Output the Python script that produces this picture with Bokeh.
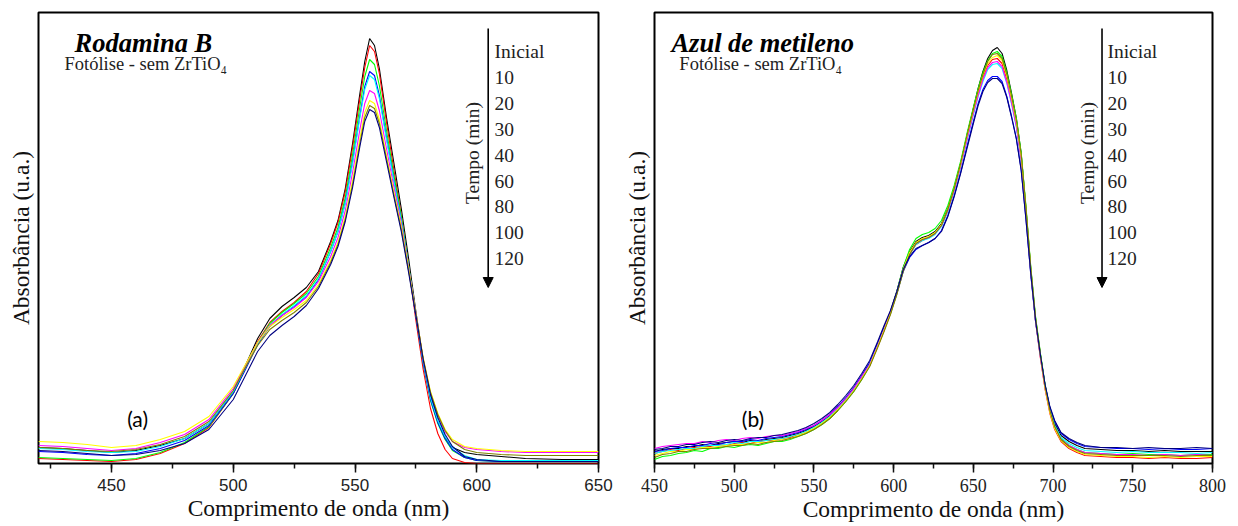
import math
from bokeh.plotting import figure
from bokeh.core.properties import value
from bokeh.models import Range1d, SingleIntervalTicker, FixedTicker, Arrow, NormalHead
from bokeh.layouts import row
from bokeh.embed import file_html
from bokeh.resources import INLINE

# Irradiation times (legend order) and Origin-style line colours
times = ["Inicial", "10", "20", "30", "40", "60", "80", "100", "120"]
colors = ["#000000", "#ff0000", "#00ff00", "#0000ff", "#00ffff",
          "#ff00ff", "#ffff00", "#808000", "#000080"]

# ---- Rodamina B spectra (absorbance, arbitrary units) ----
wl_rhb = [420, 430, 440, 450, 460, 470, 480, 490, 500, 505, 510, 515, 520, 525, 530,
          535, 540, 543, 546, 549, 552, 554, 556, 558, 560, 563, 566, 569, 572, 575,
          578, 581, 584, 587, 590, 595, 600, 610, 620, 635, 650]
rhb_0 = [16, 15, 13, 11, 13, 18, 25, 40, 72, 98, 125, 145, 157, 166, 176, 192, 222, 243, 275, 320,
         370, 402, 425, 418, 395, 345, 300, 255, 205, 152, 103, 66, 42, 26, 16, 11, 9, 7, 5, 4, 4]
rhb_10 = [5, 4, 3, 2, 4, 10, 20, 36, 70, 96, 122, 141, 152, 161, 172, 190, 220, 241, 272, 316,
          365, 396, 418, 412, 390, 340, 293, 248, 197, 143, 94, 55, 30, 14, 5, 1, 0, 0, 0, 0, 0]
rhb_20 = [6, 5, 4, 3, 5, 11, 21, 37, 70, 95, 121, 140, 151, 160, 170, 187, 216, 236, 266, 309,
          357, 387, 404, 399, 378, 332, 288, 247, 198, 148, 100, 63, 40, 24, 13, 6, 3, 2, 2, 2, 2]
rhb_30 = [12, 11, 9, 8, 10, 15, 23, 38, 70, 94, 119, 137, 148, 157, 167, 184, 212, 232, 261, 302,
          348, 377, 392, 388, 368, 325, 283, 243, 196, 147, 100, 64, 41, 25, 14, 6, 3, 2, 2, 2, 2]
rhb_40 = [15, 14, 12, 11, 12, 17, 25, 40, 72, 96, 120, 138, 149, 158, 168, 185, 212, 232, 260, 300,
          346, 374, 388, 384, 365, 323, 282, 243, 197, 149, 102, 66, 43, 27, 16, 8, 4, 3, 3, 3, 3]
rhb_60 = [18, 17, 15, 13, 15, 21, 29, 44, 75, 98, 121, 138, 148, 156, 166, 182, 207, 226, 253, 291,
          334, 360, 373, 370, 353, 314, 276, 240, 196, 150, 104, 70, 48, 32, 22, 16, 14, 12, 11, 11, 11]
rhb_80 = [22, 21, 19, 16, 18, 24, 32, 47, 77, 99, 121, 137, 146, 154, 163, 179, 203, 221, 247, 283,
          325, 351, 363, 360, 344, 307, 271, 237, 195, 150, 106, 72, 50, 34, 24, 17, 15, 13, 12, 12, 12]
rhb_100 = [16, 15, 13, 12, 14, 19, 27, 42, 73, 96, 118, 134, 143, 151, 161, 177, 201, 219, 244, 279,
           320, 346, 358, 355, 340, 304, 268, 234, 193, 149, 105, 71, 49, 33, 22, 14, 11, 9, 8, 8, 8]
rhb_120 = [13, 12, 10, 8, 9, 13, 20, 34, 64, 88, 112, 128, 138, 147, 158, 175, 199, 217, 242, 276,
           317, 342, 354, 351, 336, 301, 266, 232, 191, 148, 104, 69, 46, 29, 17, 7, 4, 2, 2, 2, 2]
rhb_series = [rhb_0, rhb_10, rhb_20, rhb_30, rhb_40, rhb_60, rhb_80, rhb_100, rhb_120]

# ---- Azul de metileno spectra (absorbance, arbitrary units) ----
wl_mb = [450, 455, 460, 465, 470, 475, 480, 485, 490, 495, 500, 505, 510, 515, 520, 525, 530, 535, 540, 545,
         550, 555, 560, 565, 570, 575, 580, 585, 590,
         594, 598, 602, 606, 610, 614, 618, 622, 626, 630, 634, 638, 642, 646,
         650, 653, 656, 659, 662, 665, 668, 671, 674, 677, 680, 683, 686, 689, 692, 695, 698, 701,
         705, 710, 715, 720, 730, 740, 750, 760, 770, 780, 790, 800]
mb_0 = [12, 14, 15, 15, 17, 17, 19, 18, 20, 21, 22, 21, 23, 22, 24, 25, 26, 28, 30, 33,
        37, 42, 48, 56, 65, 75, 87, 100, 120,
        136, 152, 172, 196, 212, 222, 226, 228, 232, 240, 255, 276, 300, 328,
        355, 375, 392, 405, 413, 416, 410, 393, 370, 345, 310, 255, 195, 145, 110, 78, 55, 40,
        28, 22, 18, 15, 14, 13, 13, 12, 13, 12, 12, 12]
mb_10 = [10, 12, 14, 13, 15, 16, 17, 17, 19, 18, 20, 21, 20, 22, 23, 23, 25, 26, 29, 31,
         35, 40, 46, 54, 63, 73, 85, 98, 117,
         133, 150, 170, 193, 209, 219, 223, 226, 230, 238, 253, 274, 298, 325,
         351, 370, 386, 398, 404, 405, 400, 384, 362, 338, 304, 251, 192, 142, 106, 74, 50, 34,
         22, 15, 11, 8, 7, 6, 6, 5, 6, 5, 5, 6]
mb_20 = [4, 7, 8, 10, 11, 13, 12, 15, 15, 17, 16, 18, 19, 18, 20, 22, 22, 24, 27, 30,
         34, 39, 45, 53, 62, 72, 84, 98, 118,
         134, 151, 172, 196, 214, 225, 229, 231, 235, 243, 258, 278, 302, 330,
         356, 375, 391, 403, 410, 412, 407, 391, 369, 345, 311, 257, 197, 147, 111, 79, 55, 38,
         25, 18, 14, 11, 10, 9, 10, 9, 9, 8, 9, 9]
mb_30 = [12, 13, 15, 16, 16, 18, 18, 20, 19, 21, 22, 22, 24, 23, 25, 26, 27, 29, 31, 34,
         38, 43, 49, 57, 66, 76, 88, 101, 120,
         135, 151, 170, 192, 206, 214, 218, 221, 225, 233, 248, 268, 291, 317,
         342, 360, 374, 383, 387, 387, 382, 367, 347, 325, 294, 244, 189, 142, 108, 78, 56, 42,
         30, 24, 20, 17, 16, 15, 15, 14, 15, 14, 14, 15]
mb_40 = [10, 12, 13, 14, 15, 15, 17, 18, 18, 19, 21, 20, 22, 22, 23, 24, 25, 27, 29, 32,
         36, 41, 47, 55, 64, 74, 86, 99, 118,
         134, 150, 170, 193, 209, 219, 223, 225, 229, 237, 252, 272, 296, 323,
         349, 367, 382, 394, 399, 400, 395, 380, 359, 336, 302, 250, 192, 143, 108, 77, 54, 38,
         26, 20, 16, 13, 12, 11, 12, 11, 11, 11, 10, 11]
mb_60 = [15, 17, 18, 19, 20, 20, 22, 21, 23, 24, 23, 25, 26, 25, 27, 28, 28, 30, 32, 35,
         38, 43, 49, 56, 65, 75, 87, 99, 118,
         134, 151, 171, 194, 210, 220, 224, 226, 230, 238, 253, 273, 297, 324,
         350, 368, 384, 396, 401, 402, 397, 381, 360, 337, 303, 251, 192, 143, 107, 75, 52, 36,
         24, 18, 14, 11, 10, 9, 9, 8, 9, 8, 9, 8]
mb_80 = [8, 10, 12, 12, 14, 14, 16, 16, 17, 18, 19, 19, 20, 21, 21, 23, 24, 25, 28, 31,
         35, 40, 46, 54, 63, 73, 85, 98, 117,
         133, 150, 170, 194, 211, 221, 225, 227, 231, 239, 254, 275, 299, 327,
         353, 372, 388, 400, 406, 408, 403, 387, 365, 341, 307, 254, 194, 144, 108, 75, 51, 35,
         23, 16, 12, 9, 8, 7, 7, 6, 7, 6, 7, 7]
mb_100 = [6, 9, 10, 12, 12, 14, 15, 15, 16, 17, 18, 18, 20, 19, 21, 22, 23, 25, 27, 30,
          34, 39, 45, 53, 62, 72, 84, 97, 116,
          132, 149, 169, 192, 209, 220, 224, 226, 230, 238, 254, 275, 300, 328,
          354, 373, 389, 402, 409, 410, 405, 389, 367, 343, 309, 256, 196, 146, 110, 77, 53, 37,
          24, 17, 13, 10, 9, 8, 8, 8, 8, 7, 8, 8]
mb_120 = [14, 15, 17, 17, 19, 19, 21, 22, 21, 23, 24, 23, 25, 26, 26, 28, 29, 31, 33, 36,
          40, 45, 51, 59, 68, 78, 90, 103, 122,
          138, 153, 172, 194, 207, 215, 218, 221, 225, 232, 247, 267, 290, 315,
          340, 358, 372, 381, 385, 385, 380, 366, 346, 324, 293, 244, 190, 143, 109, 79, 57, 43,
          31, 25, 21, 18, 16, 16, 15, 16, 15, 15, 16, 15]
mb_series = [mb_0, mb_10, mb_20, mb_30, mb_40, mb_60, mb_80, mb_100, mb_120]

SERIF = "Liberation Serif"
Y_MAX = 451


def add_text(p, x, y, text, font, size, style="normal", align="left",
             baseline="middle", angle=0.0, color="#222222"):
    p.text(x=[x], y=[y], text=[text], text_font=value(font), text_font_size=value(size),
           text_font_style=style, text_align=align, text_baseline=baseline,
           angle=angle, text_color=color)


def make_panel(wl, series, x0, x1, width, left, right, tick_font, tick_size,
               title, title_x, sub_x, tag, tag_x, legend_x):
    p = figure(width=width, height=526, x_range=Range1d(x0, x1), y_range=Range1d(0, Y_MAX),
               output_backend="svg", toolbar_location=None, tools="",
               min_border_left=left, min_border_right=right,
               min_border_top=12, min_border_bottom=63)
    p.outline_line_color = "black"
    p.outline_line_width = 2
    p.grid.visible = False
    p.background_fill_color = "white"
    p.border_fill_color = "white"

    xa = p.xaxis[0]
    xa.ticker = SingleIntervalTicker(interval=50, num_minor_ticks=2)
    xa.axis_line_color = None
    xa.major_tick_in = 0
    xa.major_tick_out = 9
    xa.minor_tick_in = 0
    xa.minor_tick_out = 5
    xa.major_tick_line_width = 1.5
    xa.minor_tick_line_width = 1.5
    xa.major_tick_line_color = "#111111"
    xa.minor_tick_line_color = "#111111"
    xa.major_label_text_font = tick_font
    xa.major_label_text_font_size = tick_size
    xa.major_label_text_color = "#222222"
    xa.major_label_standoff = 6
    xa.axis_label = "Comprimento de onda (nm)"
    xa.axis_label_text_font = SERIF
    xa.axis_label_text_font_size = "23.5px"
    xa.axis_label_text_font_style = "normal"
    xa.axis_label_text_color = "#111111"
    xa.axis_label_standoff = 1

    ya = p.yaxis[0]
    ya.ticker = FixedTicker(ticks=[])
    ya.axis_line_color = None
    ya.major_tick_out = 0
    ya.major_tick_in = 0
    ya.minor_tick_out = 0
    ya.minor_tick_in = 0
    ya.major_label_standoff = 0
    ya.axis_label = "Absorbância (u.a.)"
    ya.axis_label_text_font = SERIF
    ya.axis_label_text_font_size = "23.5px"
    ya.axis_label_text_font_style = "normal"
    ya.axis_label_text_color = "#111111"
    ya.axis_label_standoff = 5

    for vals, c in zip(series, colors):
        p.line(wl, vals, line_color=c, line_width=1.1)

    # panel title and subtitle
    add_text(p, title_x, 421, title, SERIF, "26.5px", style="bold italic",
             baseline="alphabetic", color="black")
    add_text(p, sub_x, 400, "Fotólise - sem ZrTiO₄", SERIF, "18.5px", baseline="alphabetic")

    # panel tag
    add_text(p, tag_x, 45, tag, "Lato", "21px", align="center", color="black")

    # time legend: arrow, rotated caption and time list
    arrow_x, text_x, cap_x = legend_x
    p.add_layout(Arrow(end=NormalHead(size=10, fill_color="black", line_color="black"),
                       x_start=arrow_x, y_start=435, x_end=arrow_x, y_end=176,
                       line_color="black", line_width=1.6))
    add_text(p, cap_x, 310.5, "Tempo (min)", SERIF, "19.5px", align="center",
             angle=math.pi / 2)
    for i, t in enumerate(times):
        add_text(p, text_x, 412 - i * 25.9, t, SERIF, "19.5px")
    return p


p1 = make_panel(wl_rhb, rhb_series, 420, 650, 620, 38, 22, "Liberation Sans", "17px",
                "Rodamina B", 434.8, 430.7, "(a)", 460.7, (604.7, 607.3, 598.2))
p2 = make_panel(wl_mb, mb_series, 450, 800, 618, 31, 26, SERIF, "18px",
                "Azul de metileno", 460.6, 465.6, "(b)", 511.8, (730.7, 734.1, 721.4))

layout = row(p1, p2)
open("out.html", "w").write(file_html(layout, INLINE))
